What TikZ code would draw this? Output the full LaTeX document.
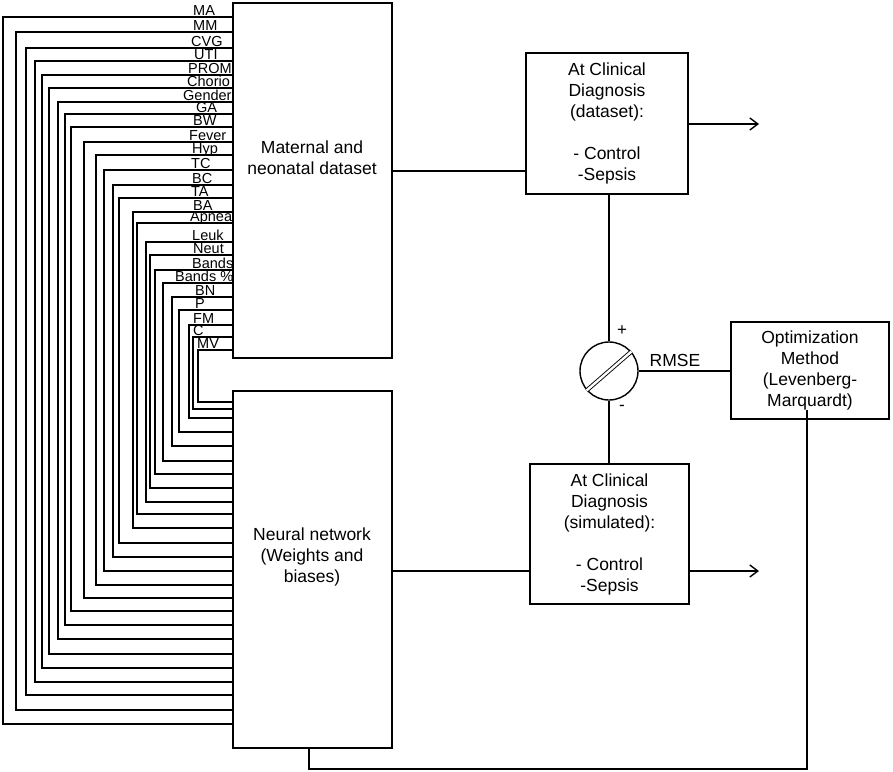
\documentclass[tikz,border=0pt]{standalone}
\usepackage{fontspec}
\setmainfont{Liberation Sans}
\usetikzlibrary{arrows.meta}
\begin{document}
\begin{tikzpicture}[x=1pt,y=-1pt,
  ln/.style={line width=1.4pt},
  box/.style={draw,line width=1.4pt,rectangle,inner sep=0pt,align=center,font=\fontsize{17.5}{21}\selectfont},
  txt/.style={inner sep=0pt,align=center,font=\fontsize{17.5}{21}\selectfont},
  lab/.style={inner sep=0pt,anchor=base west,font=\fontsize{14.5}{14.5}\selectfont},
  arr/.style={line width=1.4pt,-{Straight Barb[length=8pt,width=12pt,line width=1.4pt]}}]
\useasboundingbox (0,0) rectangle (893,771);
% main boxes
\node[box,minimum width=159pt,minimum height=355pt] (ds) at (312.5,180.5) {};
\node[txt] (dstext) at (312,158) {Maternal and\\neonatal dataset};
\node[box,minimum width=159pt,minimum height=357pt] (nn) at (312.5,569.5) {};
\node[txt] (nntext) at (312,557) {Neural network\\(Weights and\\biases)};
\node[box,minimum width=162pt,minimum height=141pt] (cd1) at (607,123.5)
  {At Clinical\\Diagnosis\\(dataset):\\[21pt]- Control\\-Sepsis};
\node[box,minimum width=159pt,minimum height=140pt] (cd2) at (609.5,534)
  {At Clinical\\Diagnosis\\(simulated):\\[21pt]- Control\\-Sepsis};
\node[box,minimum width=158pt,minimum height=97pt] (opt) at (810,370.5)
  {Optimization\\Method\\(Levenberg-\\Marquardt)};
\node[draw,circle,line width=1.4pt,minimum size=58pt,inner sep=0pt] (circ) at (609,371) {};
\draw[line width=0.9pt,double,double distance=2.4pt] (circ.221) -- (circ.41);
\node[inner sep=0pt,font=\fontsize{17}{17}\selectfont] (plus) at (622,331) {+};
\node[inner sep=0pt,font=\fontsize{17}{17}\selectfont] (minus) at (622,408) {-};
\node[inner sep=0pt,font=\fontsize{17.5}{21}\selectfont] (rmse) at (675,360) {RMSE};
% connectors
\coordinate (y1) at (0,171);
\draw[ln] (ds.east |- y1) -- (cd1.west |- y1);
\coordinate (a1) at (759,124);
\draw[arr] (cd1.east |- a1) -- (a1);
\draw[ln] (cd1.south -| circ) -- (circ.north);
\draw[ln] (circ.south) -- (cd2.north -| circ);
\draw[ln] (circ.east) -- (opt.west |- circ);
\coordinate (y2) at (0,571);
\draw[ln] (nn.east |- y2) -- (cd2.west |- y2);
\coordinate (a2) at (759,571);
\draw[arr] (cd2.east |- a2) -- (a2);
\coordinate (fb1) at (309,769);
\coordinate (fb2) at (807,769);
\coordinate (fb3) at (807,410);
\draw[ln] (nn.south -| fb1) -- (fb1) -- (fb2) -- (fb3);
% input buses
\foreach \lab/\lx/\yt/\vx/\yb [count=\i] in {
  MA/193/17/3/724, MM/193/32/16/710, CVG/191/48/26/695, UTI/194/61/35/682,
  PROM/188/75/42/668, Chorio/187/88/49/654, Gender/183/102/58/639, GA/196/114/65/625,
  BW/193/127/71/611, Fever/189/142/84/598, Hyp/192/155/96/585, TC/191/170/104/571,
  BC/192/185/113/557, TA/191/198/119/543, BA/193/212/133/528, Apnea/190/223/137/514,
  Leuk/192/242/146/502, Neut/193/255/150/488, Bands/192/270/155/474, Bands \%/175/283/163/461,
  BN/195/297/172/446, P/195/310/179/432, FM/193/325/189/418, C/193/337/193/409, MV/197/350/198/402} {
  \coordinate (t\i) at (0,\yt);
  \coordinate (b\i) at (\vx,\yb);
  \draw[ln] (ds.west |- t\i) -| (b\i) -- (nn.west |- b\i);
  \node[lab] (l\i) at (\lx,\yt-2) {\lab};
}
\end{tikzpicture}
\end{document}
